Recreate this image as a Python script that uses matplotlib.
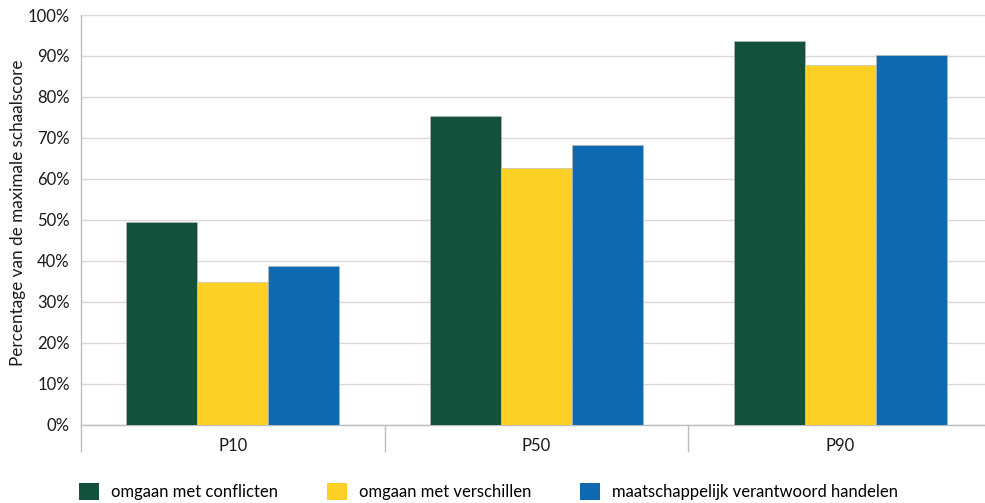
import matplotlib
matplotlib.use("Agg")
import matplotlib.pyplot as plt
import numpy as np
from matplotlib.ticker import FixedLocator, PercentFormatter

categories = ["P10", "P50", "P90"]
series_names = ["omgaan met conflicten", "omgaan met verschillen", "maatschappelijk verantwoord handelen"]
conflicten = [49.5, 75.4, 93.7]
verschillen = [34.8, 62.7, 87.8]
verantwoord = [38.7, 68.3, 90.2]
colors = ["#12523B", "#FDD026", "#0E69B1"]
ylabel = "Percentage van de maximale schaalscore"

plt.rcParams['font.family'] = ['Lato', 'DejaVu Sans']
FS = 12
W, H = 985, 503
fig = plt.figure(figsize=(W/100, H/100), dpi=100)
left, right, top, bottom = 81, 992, 15, 424.5
ax = fig.add_axes([left/W, 1-bottom/H, (right-left)/W, (bottom-top)/H])

x = np.arange(len(categories))
bw = 0.234
for i, (vals, name, c) in enumerate(zip([conflicten, verschillen, verantwoord], series_names, colors)):
    ax.bar(x + (i-1)*bw, vals, bw, color=c, label=name, edgecolor="#BBBBBB", linewidth=0.4, zorder=3)

ax.set_xlim(-0.5, 2.5)
ax.set_ylim(0, 100)
ax.yaxis.set_major_locator(FixedLocator(np.arange(0, 101, 10)))
ax.yaxis.set_major_formatter(PercentFormatter(decimals=0))
ax.grid(axis='y', color="#D9D9D9", linewidth=1.0, zorder=0)
ax.set_axisbelow(True)

for s in ['top', 'right']:
    ax.spines[s].set_visible(False)
ax.spines['left'].set_color("#BDBDBD")
ax.spines['bottom'].set_color("#BDBDBD")
ax.spines['left'].set_linewidth(1.0)
ax.spines['bottom'].set_linewidth(1.0)

ax.set_xticks(x)
ax.set_xticklabels(categories, fontsize=FS, color="#1a1a1a")
ax.tick_params(axis='x', which='major', length=0, pad=10)
ax.set_xticks([-0.5, 0.5, 1.5, 2.5], minor=True)
ax.tick_params(axis='x', which='minor', length=19.5, color="#BDBDBD", width=1.0)
ax.tick_params(axis='y', length=0, pad=8, labelsize=FS, labelcolor="#1a1a1a")
fig.text(18/W, 1-213/H, ylabel, rotation=90, ha='center', va='center', fontsize=12.3, color="#1a1a1a")

handles, labels = ax.get_legend_handles_labels()
leg = fig.legend(handles, labels, loc='lower left', bbox_to_anchor=(72/W, -0.008), ncol=3, frameon=False,
                 fontsize=FS, handlelength=1.2, handleheight=1.2, handletextpad=0.75,
                 columnspacing=2.9, borderaxespad=0.0)
for h in leg.legend_handles:
    h.set_edgecolor("none")

fig.savefig("out.png", dpi=100)
